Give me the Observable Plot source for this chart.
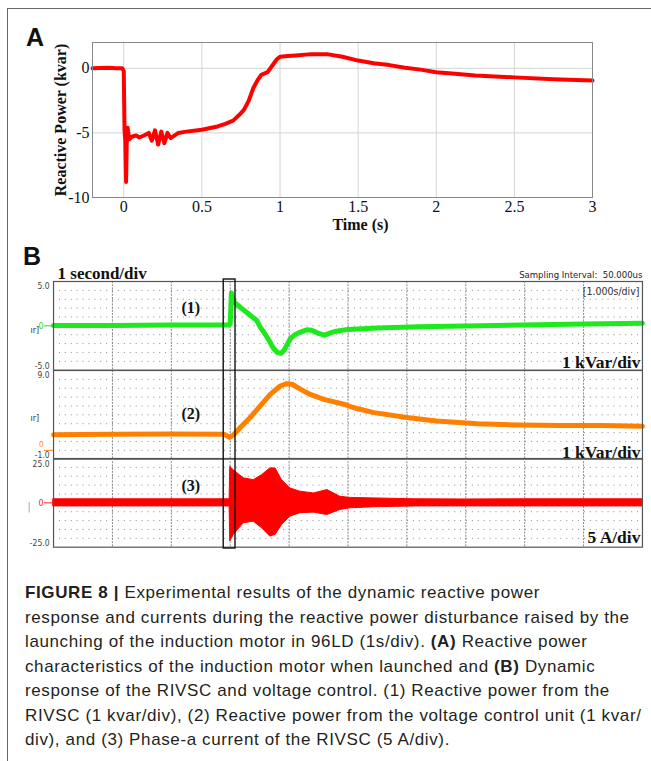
<!DOCTYPE html>
<html><head><meta charset="utf-8">
<script src="https://cdn.jsdelivr.net/npm/d3@7"></script>
<script src="https://cdn.jsdelivr.net/npm/@observablehq/plot@0.6"></script>
<style>
html,body{margin:0;padding:0;background:#fff;}
#root{position:relative;width:651px;height:761px;overflow:hidden;background:#fff;}
#frame{position:absolute;left:7px;top:8px;width:660px;height:770px;border-top:1.5px solid #666;border-left:1.5px solid #666;}
.letter{position:absolute;font-family:'Liberation Sans',Arial,sans-serif;font-weight:bold;font-size:25px;line-height:25px;color:#111;}
.slot{position:absolute;left:0;}
.slot svg{overflow:visible;}
#caption{position:absolute;left:25px;top:581px;font-family:'Liberation Sans',Arial,sans-serif;font-size:17px;letter-spacing:0.62px;line-height:24.5px;color:#231f20;white-space:nowrap;}
</style></head>
<body><div id="root">
<div id="frame"></div>
<div class="letter" style="left:26px;top:25px;">A</div>
<div class="letter" style="left:23px;top:244px;">B</div>
<div class="slot" id="pa" style="top:0px;"></div>
<div class="slot" id="p1" style="top:281px;"></div>
<div class="slot" id="p2" style="top:369.7px;"></div>
<div class="slot" id="p3" style="top:458.3px;"></div>
<div class="slot" id="pbox" style="top:279px;"></div>
<div id="caption"><b>FIGURE 8 |</b> Experimental results of the dynamic reactive power<br>response and currents during the reactive power disturbance raised by the<br>launching of the induction motor in 96LD (1s/div). <b>(A)</b> Reactive power<br>characteristics of the induction motor when launched and <b>(B)</b> Dynamic<br>response of the RIVSC and voltage control. (1) Reactive power from the<br>RIVSC (1 kvar/div), (2) Reactive power from the voltage control unit (1 kvar/<br>div), and (3) Phase-a current of the RIVSC (5 A/div).</div>
</div>
<script>
// ---------- Panel A data ----------
const timeA = [-0.2,-0.1,-0.05,-0.01,0.0,0.005,0.01,0.015,0.02,0.025,0.035,0.05,0.08,0.1,0.13,0.16,0.18,0.2,0.22,0.24,0.26,0.28,0.3,0.35,0.4,0.5,0.6,0.65,0.7,0.74,0.77,0.8,0.83,0.86,0.88,0.92,0.95,0.98,1.0,1.05,1.1,1.2,1.3,1.4,1.5,1.6,1.7,1.8,1.9,2.0,2.1,2.25,2.5,2.75,3.0];
const qA    = [0,0.05,0,0,-0.2,-4.8,-5.6,-8.8,-5.0,-4.6,-5.5,-5.3,-5.2,-5.35,-5.2,-5.0,-5.6,-4.8,-5.9,-4.9,-5.8,-5.0,-5.4,-5.0,-4.9,-4.75,-4.5,-4.3,-4.05,-3.6,-3.2,-2.5,-1.5,-0.85,-0.5,-0.3,0.2,0.7,0.9,0.95,1.0,1.1,1.1,0.9,0.6,0.4,0.25,0.05,-0.1,-0.3,-0.4,-0.55,-0.7,-0.85,-0.95];
const xTicksA = [0,0.5,1,1.5,2,2.5,3];
const yTicksA = [0,-5,-10];

// ---------- Panel B data ----------
const timeB1 = [0,1,2,2.98,3.0,3.02,3.06,3.17,3.34,3.45,3.51,3.6,3.66,3.73,3.8,3.86,3.91,3.96,4.02,4.1,4.19,4.3,4.38,4.5,4.6,4.7,4.8,5.0,5.5,6.2,7.5,9.0,10];
const qRIVSC = [0.05,0.05,0.1,0.1,0.2,3.7,2.7,2.1,1.2,0.6,-0.15,-1.0,-1.65,-2.5,-3.0,-3.1,-2.8,-2.2,-1.45,-1.0,-0.7,-0.45,-0.5,-0.85,-1.05,-0.8,-0.6,-0.4,-0.25,-0.1,0.05,0.2,0.3];
const timeB2 = [0,1,2,2.9,2.99,3.05,3.17,3.34,3.51,3.68,3.85,3.95,4.05,4.19,4.36,4.59,4.93,5.1,5.44,6.0,6.5,7.2,7.9,8.6,9.3,10];
const qVCU   = [1.75,1.8,1.85,1.8,1.45,1.7,2.57,3.7,5.0,6.3,7.25,7.5,7.45,6.9,6.3,5.75,5.2,4.8,4.25,3.7,3.3,3.0,2.85,2.8,2.8,2.7];
const timeB3 = [0,2.98,2.99,3.0,3.06,3.23,3.4,3.54,3.68,3.77,3.88,4.02,4.19,4.42,4.65,4.87,5.04,5.44,6.15,7,8,9,10];
const iUpper = [2.0,2.0,2.0,20.3,18.4,13.8,12.8,15.6,19.4,19.4,12.8,8.15,6.3,5.3,7.2,3.4,2.8,2.5,2.0,1.9,2.0,2.0,2.0];
const iLower = [-2.0,-2.0,-2.0,-21.8,-18.1,-11.5,-10.6,-14.3,-19.0,-18.1,-12.5,-7.8,-5.9,-5.5,-6.85,-4.0,-3.1,-2.5,-2.0,-2.0,-2.0,-2.0,-2.0];

const divsB = [1,2,3,4,5,6,7,8,9];
const rowsB1 = [-4,-3,-2,-1,0,1,2,3,4];
const rowsB2 = [0,1,2,3,4,5,6,7,8];
const rowsB3 = [-20,-15,-10,-5,0,5,10,15,20];
const ticksB1 = ["5.0","0","-5.0"];
const ticksB2 = ["9.0","0","-1.0"];
const ticksB3 = ["25.0","0","-25.0"];
const scaleLabels = ["1 kVar/div","1 kVar/div","5 A/div"];
const traceLabels = ["(1)","(2)","(3)"];
const boxT = [2.89, 3.09];

const rowsA = timeA.map((t,i)=>({t, q:qA[i]}));
const rows1 = timeB1.map((t,i)=>({t, v:qRIVSC[i]}));
const rows2 = timeB2.map((t,i)=>({t, v:qVCU[i]}));
const rows3 = timeB3.map((t,i)=>({t, hi:iUpper[i], lo:iLower[i]}));

const SERIF = "'Liberation Serif','Times New Roman',serif";
const NARROW = "'Liberation Sans Narrow','DejaVu Sans Condensed','Liberation Sans',Arial,sans-serif";

// ---------- Panel A ----------
const pa = Plot.plot({
  width: 651, height: 240,
  marginLeft: 92, marginRight: 59, marginTop: 42, marginBottom: 43,
  x: {domain: [-0.2, 3], label: null},
  y: {domain: [-10, 2], label: null},
  style: {background: "transparent", fontFamily: SERIF, fontSize: "16px", color: "#111", overflow: "visible"},
  marks: [
    Plot.gridX(xTicksA, {stroke: "#d4d4d4", strokeOpacity: 1}),
    Plot.gridY(yTicksA, {stroke: "#d4d4d4", strokeOpacity: 1}),
    Plot.line(rowsA, {x: "t", y: "q", stroke: "#ff0000", strokeWidth: 4, strokeLinejoin: "round"}),
    Plot.frame({stroke: "#888"}),
    Plot.axisX(xTicksA, {label: null, tickSize: 0, tickPadding: 3, tickFormat: d => String(d), fontSize: 16}),
    Plot.axisY(yTicksA, {label: null, tickSize: 0, tickPadding: 3, tickFormat: d => String(d), fontSize: 16}),
    Plot.text(["Reactive Power (kvar)"], {frameAnchor: "left", rotate: -90, dx: -32, textAnchor: "middle", fontWeight: "bold", fontSize: 16, fontFamily: SERIF}),
    Plot.text(["Time (s)"], {frameAnchor: "bottom", dx: 18, dy: 27, lineAnchor: "middle", fontWeight: "bold", fontSize: 16, fontFamily: SERIF})
  ]
});
document.getElementById("pa").appendChild(pa);

// ---------- Panel B helper ----------
const H = 88.7;
function scopePanel(idx, yDomain, rows, ticks, zeroColor, traceMarks, labelY, topDy, botDy, zeroTextDy, extra) {
  return Plot.plot({
    width: 651, height: H,
    marginLeft: 53, marginRight: 9, marginTop: 0, marginBottom: 0,
    x: {domain: [0, 10], axis: null, label: null},
    y: {domain: yDomain, axis: null, label: null},
    style: {background: "transparent", overflow: "visible", fontFamily: NARROW, fontSize: "8.5px", color: "#333"},
    marks: [
      Plot.ruleY(rows, {stroke: "#8a8a8a", strokeDasharray: "1,4.9", strokeWidth: 1}),
      Plot.ruleX(divsB, {stroke: "#8a8a8a", strokeDasharray: "2,1.2", strokeWidth: 1}),
      ...traceMarks,
      Plot.frame({stroke: "#555", strokeWidth: 1.2}),
      Plot.text([ticks[0]], {frameAnchor: "top-left", dx: -4, dy: topDy, textAnchor: "end", lineAnchor: "top", fill: "#444", fontSize: 8.5}),
      Plot.text([ticks[2]], {frameAnchor: "bottom-left", dx: -4, dy: botDy, textAnchor: "end", lineAnchor: "bottom", fill: "#444", fontSize: 8.5}),
      Plot.axisY([0], {anchor: "left", label: null, tickSize: 9, tickPadding: 1, stroke: zeroColor, tickFormat: () => ""}),
      Plot.text([0], {y: d => d, frameAnchor: "left", dx: -10, dy: zeroTextDy, text: () => ticks[1], textAnchor: "end", fill: zeroColor, fontSize: idx === 1 ? 8 : 9}),
      Plot.text([traceLabels[idx]], {x: 2.33, y: labelY, fontFamily: SERIF, fontWeight: "bold", fontSize: 16, fill: "#111"}),
      Plot.text([scaleLabels[idx]], {frameAnchor: "bottom-right", dx: -2, dy: idx === 0 ? -2.5 : idx === 1 ? -1.5 : -4, textAnchor: "end", lineAnchor: "bottom", fontFamily: SERIF, fontWeight: "bold", fontSize: 17.5, fill: "#111"}),
      ...extra
    ]
  });
}

const p1 = scopePanel(0, [-5, 5], rowsB1, ticksB1, "#22dd22",
  [Plot.line(rows1, {x: "t", y: "v", stroke: "#1ee81e", strokeWidth: 5, strokeLinejoin: "round"})], 2, 1, -1.5, 0,
  [
    Plot.text(["1 second/div"], {frameAnchor: "top-left", dx: 4, dy: -3, textAnchor: "start", lineAnchor: "bottom", fontFamily: SERIF, fontWeight: "bold", fontSize: 17, fill: "#111"}),
    Plot.text(["Sampling Interval:  50.000us"], {frameAnchor: "top-right", dx: 0, dy: -4, textAnchor: "end", lineAnchor: "bottom", fontSize: 9.5, fill: "#222"}),
    Plot.text(["[1.000s/div]"], {frameAnchor: "top-right", dx: -3, dy: 14, textAnchor: "end", lineAnchor: "bottom", fontSize: 10.5, fill: "#333"}),
    Plot.text(["ır]"], {frameAnchor: "left", dx: -23, dy: 4, textAnchor: "start", fontSize: 9, fill: "#333"})
  ]);
document.getElementById("p1").appendChild(p1);

const p2 = scopePanel(1, [-1, 9], rowsB2, ticksB2, "#ff8000",
  [Plot.line(rows2, {x: "t", y: "v", stroke: "#ff8000", strokeWidth: 5, strokeLinejoin: "round"})], 4.1, 1.5, -1, -5.5,
  [Plot.text(["ır]"], {frameAnchor: "left", dx: -23, dy: 3, textAnchor: "start", fontSize: 9, fill: "#333"})]);
document.getElementById("p2").appendChild(p2);

const p3 = scopePanel(2, [-25, 25], rowsB3, ticksB3, "#ff2020",
  [Plot.areaY(rows3, {x: "t", y1: "lo", y2: "hi", fill: "#ff0000", stroke: "#ff0000", strokeWidth: 1})], 9.4, 2.5, -1, 0,
  [Plot.text(["|"], {frameAnchor: "left", dx: -26, dy: 4, textAnchor: "start", fontSize: 10, fill: "#33bbcc"})]);
document.getElementById("p3").appendChild(p3);

// ---------- event box overlay ----------
const pbox = Plot.plot({
  width: 651, height: 269,
  marginLeft: 53, marginRight: 9, marginTop: 0, marginBottom: 0,
  x: {domain: [0, 10], axis: null},
  style: {background: "transparent", overflow: "visible"},
  marks: [
    Plot.rect([{a: boxT[0], b: boxT[1]}], {x1: "a", x2: "b", fill: "none", stroke: "#111", strokeWidth: 1.4})
  ]
});
document.getElementById("pbox").appendChild(pbox);
</script>
</body></html>
